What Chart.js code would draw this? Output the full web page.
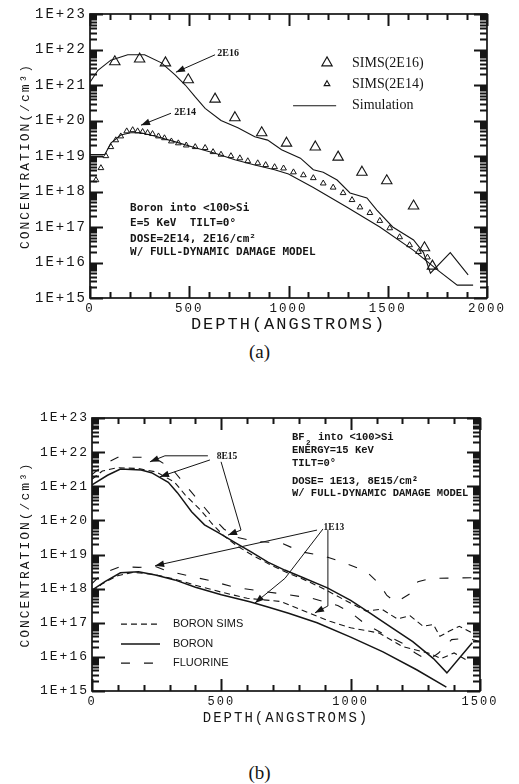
<!DOCTYPE html>
<html>
<head>
<meta charset="utf-8">
<script src="https://cdn.jsdelivr.net/npm/chart.js@4.4.1/dist/chart.umd.min.js"></script>
<style>
  html, body { margin: 0; padding: 0; background: #fff; }
  body { width: 519px; height: 784px; position: relative; overflow: hidden; }
  canvas { position: absolute; left: 0; }
  #chartA { top: 0; }
  #chartB { top: 405px; }
  .cap { position: absolute; left: 0; width: 519px; text-align: center; font-family: "Liberation Serif", serif; font-size: 19px; line-height: 22px; color: #151515; }
</style>
</head>
<body>
<canvas id="chartA" width="519" height="340"></canvas>
<canvas id="chartB" width="519" height="330"></canvas>
<div class="cap" style="top:341px">(a)</div>
<div class="cap" style="top:762px">(b)</div>
<script>
var INK = '#151515';
var MONO = '"Liberation Mono", "DejaVu Sans Mono", monospace';

var yTickValues = [1e15, 1e16, 1e17, 1e18, 1e19, 1e20, 1e21, 1e22, 1e23];
var yTickLabels = ['1E+15', '1E+16', '1E+17', '1E+18', '1E+19', '1E+20', '1E+21', '1E+22', '1E+23'];
var yMinorMantissas = [2, 3, 4, 5, 6, 7, 8, 9];
var xTicksA = [0, 500, 1000, 1500, 2000];
var xTicksB = [0, 500, 1000, 1500];

// (a) boron into <100>Si, 5 keV -- depth in angstroms, concentration in /cm3
var simDepth2E16 = [0, 40, 105, 190, 275, 360, 430, 480, 530, 580, 660, 745, 830, 895, 965, 1060, 1125, 1175, 1245, 1310, 1395, 1445, 1525, 1630, 1680, 1715, 1815, 1905];
var simConc2E16 = [1.2e21, 2.6e21, 5.0e21, 7.1e21, 7.1e21, 4.2e21, 1.9e21, 1.0e21, 4.6e20, 2.2e20, 1.0e20, 6.2e19, 3.5e19, 2.8e19, 1.5e19, 8.7e18, 4.1e18, 3.5e18, 2.1e18, 9.1e17, 6.6e17, 3.0e17, 1.0e17, 4.3e16, 1.9e16, 5.0e15, 1.9e16, 4.5e15];
var simDepth2E14 = [0, 75, 105, 155, 205, 255, 330, 430, 530, 630, 730, 830, 930, 1000, 1125, 1295, 1460, 1630, 1750, 1850, 1930];
var simConc2E14 = [1.1e19, 1.1e19, 2.3e19, 3.9e19, 4.5e19, 4.5e19, 3.6e19, 2.5e19, 1.7e19, 1.2e19, 7.8e18, 5.6e18, 4.1e18, 3.1e18, 1.3e18, 3.6e17, 1.0e17, 2.2e16, 6.2e15, 2.3e15, 2.3e15];
var simsDepth2E16 = [125, 250, 380, 495, 630, 730, 865, 990, 1135, 1250, 1370, 1495, 1630, 1685, 1725];
var simsConc2E16 = [4.5e21, 5.4e21, 4.2e21, 1.4e21, 4.0e20, 1.2e20, 4.5e19, 2.3e19, 1.8e19, 9.3e18, 3.5e18, 2.0e18, 3.9e17, 2.6e16, 7.9e15];
var simsDepth2E14 = [30, 55, 80, 105, 130, 155, 185, 215, 240, 265, 290, 315, 345, 375, 410, 445, 485, 530, 580, 620, 660, 710, 755, 795, 845, 885, 930, 975, 1025, 1075, 1125, 1175, 1225, 1275, 1320, 1360, 1410, 1460, 1510, 1560, 1610, 1655, 1700];
var simsConc2E14 = [2.1e18, 4.6e18, 1.0e19, 1.8e19, 2.8e19, 3.6e19, 5.0e19, 5.4e19, 5.0e19, 4.8e19, 4.5e19, 4.2e19, 3.6e19, 3.2e19, 2.6e19, 2.3e19, 2.0e19, 1.8e19, 1.7e19, 1.3e19, 1.1e19, 1.0e19, 8.7e18, 7.2e18, 6.3e18, 5.6e18, 4.9e18, 4.5e18, 3.5e18, 2.9e18, 2.4e18, 1.7e18, 1.3e18, 9.1e17, 5.8e17, 3.6e17, 2.5e17, 1.5e17, 9.3e16, 5.2e16, 3.1e16, 2.0e16, 1.4e16];

// (b) BF2 into <100>Si, 15 keV
var boronDepth8E15 = [0, 60, 110, 190, 230, 295, 330, 385, 435, 490, 555, 615, 680, 745, 810, 910, 1000, 1075, 1160, 1240, 1320, 1372, 1470];
var boronConc8E15 = [1.1e21, 2.1e21, 3.2e21, 3.0e21, 2.5e21, 1.3e21, 6.5e20, 1.8e20, 7.4e19, 4.3e19, 2.2e19, 1.2e19, 6.0e18, 3.5e18, 2.2e18, 1.05e18, 4.5e17, 1.9e17, 7.1e16, 2.8e16, 8.9e15, 3.4e15, 2.6e16];
var boronSimsDepth8E15 = [0, 40, 100, 180, 250, 320, 360, 420, 470, 510, 560, 620, 690, 760, 830, 900, 980, 1060, 1120, 1180, 1230, 1280, 1320, 1345, 1380, 1420, 1470];
var boronSimsConc8E15 = [1.6e21, 2.8e21, 3.5e21, 3.3e21, 2.6e21, 1.3e21, 5.6e20, 2.0e20, 7.1e19, 3.5e19, 1.8e19, 9.5e18, 5.0e18, 2.8e18, 1.7e18, 9.5e17, 4.5e17, 2.2e17, 2.5e17, 1.3e17, 1.6e17, 7.9e16, 8.9e16, 4.0e16, 5.6e16, 7.9e16, 5.0e16];
var fluorDepth8E15 = [0, 50, 100, 200, 260, 310, 360, 410, 460, 510, 560, 630, 730, 810, 900, 990, 1060, 1110, 1140, 1175, 1230, 1260, 1310, 1500];
var fluorConc8E15 = [2.2e21, 4.5e21, 7.1e21, 7.1e21, 5.6e21, 3.2e21, 1.1e21, 4.0e20, 1.4e20, 5.6e19, 3.2e19, 2.4e19, 2.2e19, 1.2e19, 8.9e18, 5.2e18, 3.2e18, 1.4e18, 6.3e17, 4.0e17, 7.1e17, 1.6e18, 2.0e18, 2.1e18];
var boronDepth1E13 = [0, 50, 110, 180, 245, 320, 400, 500, 610, 680, 760, 870, 1000, 1125, 1255, 1370];
var boronConc1E13 = [9.1e17, 1.6e18, 2.9e18, 3.1e18, 2.5e18, 1.8e18, 1.1e18, 6.6e17, 4.1e17, 2.9e17, 1.9e17, 1.0e17, 3.8e16, 1.4e16, 4.2e15, 1.3e15];
var boronSimsDepth1E13 = [0, 40, 100, 160, 240, 320, 400, 500, 600, 730, 820, 920, 1000, 1110, 1200, 1300, 1350, 1400, 1450];
var boronSimsConc1E13 = [7.9e17, 1.4e18, 2.4e18, 3.0e18, 2.6e18, 1.9e18, 1.26e18, 7.9e17, 5.2e17, 4.2e17, 2.2e17, 1.1e17, 7.1e16, 5.0e16, 2.0e16, 1.3e16, 8.9e15, 1.3e16, 7.9e15];
var fluorDepth1E13 = [0, 40, 110, 180, 245, 280, 380, 460, 550, 650, 750, 850, 950, 1000, 1050, 1120, 1200, 1250, 1300, 1340, 1390, 1450, 1500];
var fluorConc1E13 = [1.4e18, 2.8e18, 4.4e18, 4.2e18, 4.5e18, 3.5e18, 2.3e18, 1.7e18, 1.1e18, 8.5e17, 6.8e17, 5.2e17, 3.2e17, 2.0e17, 1.0e17, 5.0e16, 2.5e16, 1.3e16, 7.9e15, 1.3e16, 3.2e16, 3.5e16, 2.8e16];

var DASH_SIMS = [6, 4];
var DASH_FLUOR = [9, 14];

function pts(xs, ys) {
  return xs.map(function (x, i) { return { x: x, y: ys[i] }; });
}

function lineSet(label, xs, ys, width, dash) {
  return {
    label: label, data: pts(xs, ys), showLine: true, pointRadius: 0,
    borderColor: INK, borderWidth: width, borderDash: dash || [], tension: 0, fill: false
  };
}

function triSet(label, xs, ys, r, width) {
  return {
    label: label, data: pts(xs, ys), showLine: false, pointStyle: 'triangle',
    pointRadius: r, pointBorderWidth: width, borderColor: INK, pointBorderColor: INK,
    backgroundColor: 'rgba(0,0,0,0)', pointBackgroundColor: 'rgba(0,0,0,0)'
  };
}

// notes are placed in data coordinates (depth, concentration)
var notesA = {
  texts: [
    { x: 696, y: 7.9e21, text: '2E16', font: 'bold 10px "Liberation Serif"', align: 'center' },
    { x: 479, y: 1.7e20, text: '2E14', font: 'bold 10px "Liberation Serif"', align: 'center' },
    { x: 202, y: 3.5e17, text: 'Boron into <100>Si', font: 'bold 11px "DejaVu Sans Mono"' },
    { x: 202, y: 1.3e17, text: 'E=5 KeV  TILT=0°', font: 'bold 11px "DejaVu Sans Mono"' },
    { x: 202, y: 4.6e16, text: 'DOSE=2E14, 2E16/cm²', font: 'bold 11px "DejaVu Sans Mono"' },
    { x: 202, y: 1.9e16, text: 'W/ FULL-DYNAMIC DAMAGE MODEL', font: 'bold 11px "DejaVu Sans Mono"' }
  ],
  arrows: [
    [[630, 7.1e21], [433, 2.3e21]],
    [[408, 1.6e20], [257, 7.4e19]]
  ],
  legend: [
    { sym: 'tri', r: 6, x0: 1194, y: 4.2e21, tx: 1320, label: 'SIMS(2E16)' },
    { sym: 'tri', r: 3.3, x0: 1194, y: 1.07e21, tx: 1320, label: 'SIMS(2E14)' },
    { sym: 'line', x0: 1023, x1: 1240, y: 2.6e20, tx: 1320, label: 'Simulation', width: 1.1 }
  ],
  legendFont: '14px "Liberation Serif"'
};

var notesB = {
  texts: [
    { x: 522, y: 7.2e21, text: '8E15', font: 'bold 9.5px "Liberation Serif"', align: 'center' },
    { x: 935, y: 6.0e19, text: '1E13', font: 'bold 9.5px "Liberation Serif"', align: 'center' },
    { x: 773, y: 2.8e22, text: 'BF', font: 'bold 10.5px "Liberation Mono"' },
    { x: 773, y: 2.8e22, dx: 14, dy: 6, text: '2', font: 'bold 7.5px "Liberation Mono"' },
    { x: 773, y: 2.8e22, dx: 26, text: 'into <100>Si', font: 'bold 10.5px "Liberation Mono"' },
    { x: 773, y: 1.1e22, text: 'ENERGY=15 KeV', font: 'bold 10.5px "Liberation Mono"' },
    { x: 773, y: 4.6e21, text: 'TILT=0°', font: 'bold 10.5px "Liberation Mono"' },
    { x: 773, y: 1.35e21, text: 'DOSE= 1E13, 8E15/cm²', font: 'bold 10.5px "Liberation Mono"' },
    { x: 773, y: 6.0e20, text: 'W/ FULL-DYNAMIC DAMAGE MODEL', font: 'bold 10.5px "Liberation Mono"' }
  ],
  arrows: [
    [[448, 7.8e21], [282, 7.8e21], [224, 5.2e21]],
    [[456, 5.9e21], [263, 1.9e21]],
    [[499, 5.2e21], [576, 5.2e19], [526, 3.7e19]],
    [[870, 5.2e19], [244, 4.7e18]],
    [[893, 5.6e19], [746, 2.0e18], [630, 3.8e17]],
    [[912, 5.2e19], [912, 3.1e17], [862, 1.95e17]]
  ],
  legend: [
    { sym: 'line', x0: 112, x1: 263, y: 9.1e16, tx: 313, label: 'BORON SIMS', width: 1.2, dash: DASH_SIMS },
    { sym: 'line', x0: 112, x1: 263, y: 2.4e16, tx: 313, label: 'BORON', width: 1.5 },
    { sym: 'line', x0: 112, x1: 263, y: 6.6e15, tx: 313, label: 'FLUORINE', width: 1.2, dash: DASH_FLUOR }
  ],
  legendFont: '11px "Liberation Sans"'
};

function triangle(ctx, x, y, r) {
  ctx.beginPath();
  for (var k = 0; k < 3; k += 1) {
    var ang = k * 2 * Math.PI / 3;
    var tx = x + Math.sin(ang) * r;
    var ty = y - Math.cos(ang) * r;
    if (k === 0) ctx.moveTo(tx, ty); else ctx.lineTo(tx, ty);
  }
  ctx.closePath();
  ctx.stroke();
}

function seg(ctx, x1, y1, x2, y2) {
  ctx.beginPath();
  ctx.moveTo(x1, y1);
  ctx.lineTo(x2, y2);
  ctx.stroke();
}

// inward ticks on all four sides, placed from the chart's own scales
function drawFrameTicks(ctx, chart, xMax) {
  var a = chart.chartArea;
  var xs = chart.scales.x;
  var ys = chart.scales.y;
  ctx.strokeStyle = INK;
  ctx.setLineDash([]);
  ctx.lineWidth = 1.7;
  ctx.strokeRect(a.left, a.top, a.right - a.left, a.bottom - a.top);
  var path = new Path2D();
  yTickValues.forEach(function (v, i) {
    var y = Math.round(ys.getPixelForValue(v)) + 0.5;
    path.moveTo(a.left, y); path.lineTo(a.left + 13, y);
    path.moveTo(a.right, y); path.lineTo(a.right - 13, y);
    if (i === yTickValues.length - 1) return;
    yMinorMantissas.forEach(function (m) {
      var ym = Math.round(ys.getPixelForValue(v * m)) + 0.5;
      path.moveTo(a.left, ym); path.lineTo(a.left + 7, ym);
      path.moveTo(a.right, ym); path.lineTo(a.right - 7, ym);
    });
  });
  for (var d = 0; d <= xMax; d += 100) {
    var x = Math.round(xs.getPixelForValue(d)) + 0.5;
    var tl = d % 500 === 0 ? 12 : 6;
    path.moveTo(x, a.top); path.lineTo(x, a.top + tl);
    path.moveTo(x, a.bottom); path.lineTo(x, a.bottom - tl);
  }
  ctx.lineWidth = 2;
  ctx.stroke(path);
}

function paperPlugin(cfg) {
  return {
    id: 'paper',
    beforeDraw: function (chart) {
      var ctx = chart.ctx;
      ctx.save();
      ctx.fillStyle = '#ffffff';
      ctx.fillRect(0, 0, chart.width, chart.height);
      ctx.restore();
      ctx.letterSpacing = '2px';
    },
    afterDatasetsDraw: function (chart) {
      var ctx = chart.ctx;
      ctx.save();
      drawFrameTicks(ctx, chart, cfg.xMax);
      ctx.restore();
    },
    afterDraw: function (chart) {
      var ctx = chart.ctx;
      var xs = chart.scales.x;
      var ys = chart.scales.y;
      function px(v) { return xs.getPixelForValue(v); }
      function py(v) { return ys.getPixelForValue(v); }
      ctx.letterSpacing = '0px';
      ctx.save();
      ctx.strokeStyle = INK;
      ctx.fillStyle = INK;
      var notes = cfg.notes;
      // arrows
      ctx.lineWidth = 1;
      notes.arrows.forEach(function (path) {
        var p = path.map(function (q) { return { x: px(q[0]), y: py(q[1]) }; });
        ctx.beginPath();
        ctx.moveTo(p[0].x, p[0].y);
        for (var i = 1; i < p.length; i += 1) ctx.lineTo(p[i].x, p[i].y);
        ctx.stroke();
        var tip = p[p.length - 1];
        var prev = p[p.length - 2];
        var ang = Math.atan2(tip.y - prev.y, tip.x - prev.x);
        var L = 9, W = 3.3;
        var c = Math.cos(ang), s = Math.sin(ang);
        ctx.beginPath();
        ctx.moveTo(tip.x, tip.y);
        ctx.lineTo(tip.x - L * c + W * s, tip.y - L * s - W * c);
        ctx.lineTo(tip.x - L * c - W * s, tip.y - L * s + W * c);
        ctx.closePath();
        ctx.fill();
      });

      // text
      ctx.textBaseline = 'middle';
      notes.texts.forEach(function (t) {
        ctx.font = t.font;
        ctx.textAlign = t.align || 'left';
        ctx.fillText(t.text, px(t.x) + (t.dx || 0), py(t.y) + (t.dy || 0));
      });

      // legend
      notes.legend.forEach(function (it) {
        var y = py(it.y);
        if (it.sym === 'tri') {
          ctx.lineWidth = 1.1;
          ctx.setLineDash([]);
          triangle(ctx, px(it.x0), y, it.r);
        } else {
          ctx.lineWidth = it.width;
          ctx.setLineDash(it.dash || []);
          seg(ctx, px(it.x0), y, px(it.x1), y);
          ctx.setLineDash([]);
        }
        ctx.font = notes.legendFont;
        ctx.textAlign = 'left';
        ctx.fillText(it.label, px(it.tx), y);
      });
      ctx.restore();
    }
  };
}

function buildChart(canvasId, cfg) {
  var canvas = document.getElementById(canvasId);
  return new Chart(canvas.getContext('2d'), {
    type: 'scatter',
    data: { datasets: cfg.datasets },
    options: {
      responsive: false,
      animation: false,
      events: [],
      layout: { padding: cfg.padding },
      plugins: { legend: { display: false }, tooltip: { enabled: false } },
      scales: {
        x: {
          type: 'linear', min: 0, max: cfg.xMax,
          afterBuildTicks: function (s) { s.ticks = cfg.xTicks.map(function (v) { return { value: v }; }); },
          afterFit: function (s) { s.height = cfg.xAxisHeight; },
          grid: { display: false, drawTicks: false },
          border: { display: false },
          ticks: {
            autoSkip: false, maxRotation: 0, padding: cfg.xTickPad, color: INK,
            font: { family: MONO, size: cfg.xTickSize },
            callback: function (v) { return String(v); }
          },
          title: {
            display: true, text: 'DEPTH(ANGSTROMS)', color: INK,
            font: { family: MONO, size: cfg.xTitleSize },
            padding: { top: 0, bottom: cfg.xTitlePad }
          }
        },
        y: {
          type: 'logarithmic', min: 1e15, max: 1e23,
          afterBuildTicks: function (s) { s.ticks = yTickValues.map(function (v) { return { value: v }; }); },
          afterFit: function (s) { s.width = cfg.yAxisWidth; },
          grid: { display: false, drawTicks: false },
          border: { display: false },
          ticks: {
            padding: 3, color: INK,
            font: { family: MONO, size: cfg.yTickSize },
            callback: function (v, i) { return yTickLabels[i]; }
          },
          title: {
            display: true, text: 'CONCENTRATION(/cm³)', color: INK,
            font: { family: MONO, size: 13 },
            padding: { top: 18, bottom: 0 }
          }
        }
      }
    },
    plugins: [paperPlugin(cfg)]
  });
}

buildChart('chartA', {
  xMax: 2000, xTicks: xTicksA,
  padding: { top: 14, right: 32, left: 0, bottom: 0 },
  xAxisHeight: 42, yAxisWidth: 90,
  xTickPad: 3, xTickSize: 12.5, xTitleSize: 17, xTitlePad: 5, yTickSize: 14,
  notes: notesA,
  datasets: [
    triSet('SIMS(2E16)', simsDepth2E16, simsConc2E16, 6, 1.1),
    triSet('SIMS(2E14)', simsDepth2E14, simsConc2E14, 3.3, 1),
    lineSet('Simulation 2E16', simDepth2E16, simConc2E16, 1.1),
    lineSet('Simulation 2E14', simDepth2E14, simConc2E14, 1.1)
  ]
});

buildChart('chartB', {
  xMax: 1500, xTicks: xTicksB,
  padding: { top: 13, right: 39, left: 0, bottom: 0 },
  xAxisHeight: 44, yAxisWidth: 92,
  xTickPad: 4, xTickSize: 12, xTitleSize: 14, xTitlePad: 8, yTickSize: 13,
  notes: notesB,
  datasets: [
    lineSet('BORON 8E15', boronDepth8E15, boronConc8E15, 1.5),
    lineSet('BORON SIMS 8E15', boronSimsDepth8E15, boronSimsConc8E15, 1.1, DASH_SIMS),
    lineSet('FLUORINE 8E15', fluorDepth8E15, fluorConc8E15, 1.1, DASH_FLUOR),
    lineSet('BORON 1E13', boronDepth1E13, boronConc1E13, 1.5),
    lineSet('BORON SIMS 1E13', boronSimsDepth1E13, boronSimsConc1E13, 1.1, DASH_SIMS),
    lineSet('FLUORINE 1E13', fluorDepth1E13, fluorConc1E13, 1.1, DASH_FLUOR)
  ]
});
</script>
</body>
</html>
